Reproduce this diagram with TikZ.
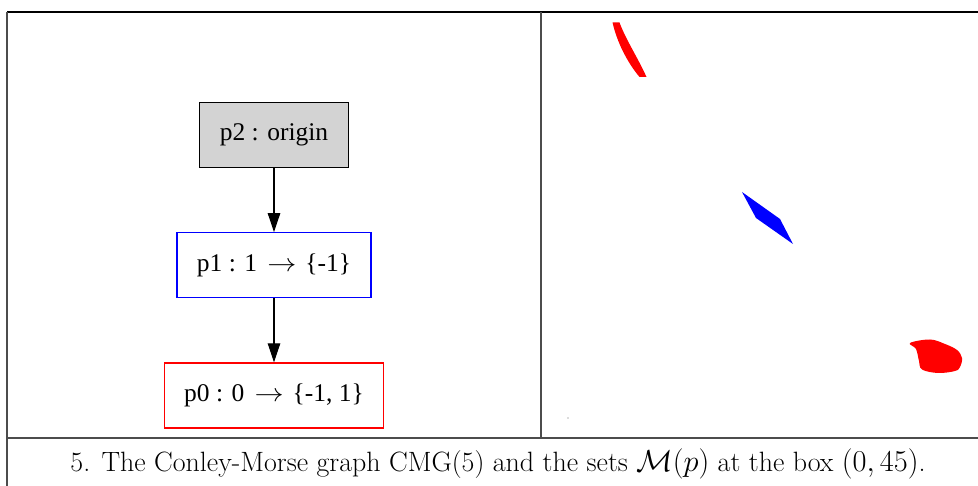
\documentclass[tikz,border=0pt]{standalone}
\usepackage{amssymb}
\usepackage{fontspec}
\usepackage{tikz}
\usepackage{xcolor}
\usetikzlibrary{
    arrows.meta,
    shapes,
    calc,
    positioning
}
\newfontfamily\gvfont{Liberation Serif}
\definecolor{nodegray}{HTML}{D3D3D3}
\newcommand{\gvarrow}{\hspace{0.4em}\scalebox{1.15}[1]{$\rightarrow$}\hspace{0.35em}}
\tikzset{
    morsebox/.style={draw, rectangle, line width=0.7pt, inner xsep=0.4cm,
        minimum height=1.3cm, font=\gvfont\fontsize{14.5}{16}\selectfont},
    morseedge/.style={line width=0.6pt, -{Triangle[length=3.8mm, width=2.5mm]}},
    tableline/.style={black!70, line width=0.6pt}
}

\begin{document}
\begin{tikzpicture}[x=0.2mm, y=-0.2mm, node distance=1.28cm]
                                \useasboundingbox (0, 0) rectangle (978, 486);
                                \draw[black, line width=0.6pt] (7, 12) -- (978, 12);
                                \draw[tableline]
                                (7, 12) -- (7, 486)
                                (541, 12) -- (541, 438)
                                (7, 438) -- (978, 438);
                                \node[morsebox, fill=nodegray] (p2) at (274, 135) {p2 : origin};
                                \node[morsebox, draw=blue, below=of p2] (p1) {p1 : 1\gvarrow\{-1\}};
                                \node[morsebox, draw=red, below=of p1] (p0) {p0 : 0\gvarrow\{-1, 1\}};
                                \draw[morseedge] (p2) -- (p1);
                                \draw[morseedge] (p1) -- (p0);
                                \fill[red]
                                (612.5, 22.5) .. controls (617, 42) and (627, 62) .. (639.5, 77)
                                -- (646.5, 77) .. controls (638, 58) and (626, 40) .. (619.5, 22.5) -- cycle;
                                \fill[blue] (742, 192) -- (780, 219) -- (793, 244) -- (756, 218) -- cycle;
                                \fill[red] plot[smooth cycle, tension=0.6] coordinates {
                                (910, 343) (930, 339.5) (945, 344) (957, 350) (962, 358)
                                (960, 367) (955, 371) (938, 373) (922, 369.5) (919, 361) (916, 349)};
                                \fill[black!60] (568, 418) circle (0.6);
                                \node[font=\fontsize{15.9}{19}\selectfont] (caption) at (498, 464)
                                {5. The Conley-Morse graph CMG(5) and the sets $\mathcal{M}(p)$ at the box $(0, 45)$.};
                            \end{tikzpicture}
\end{document}
